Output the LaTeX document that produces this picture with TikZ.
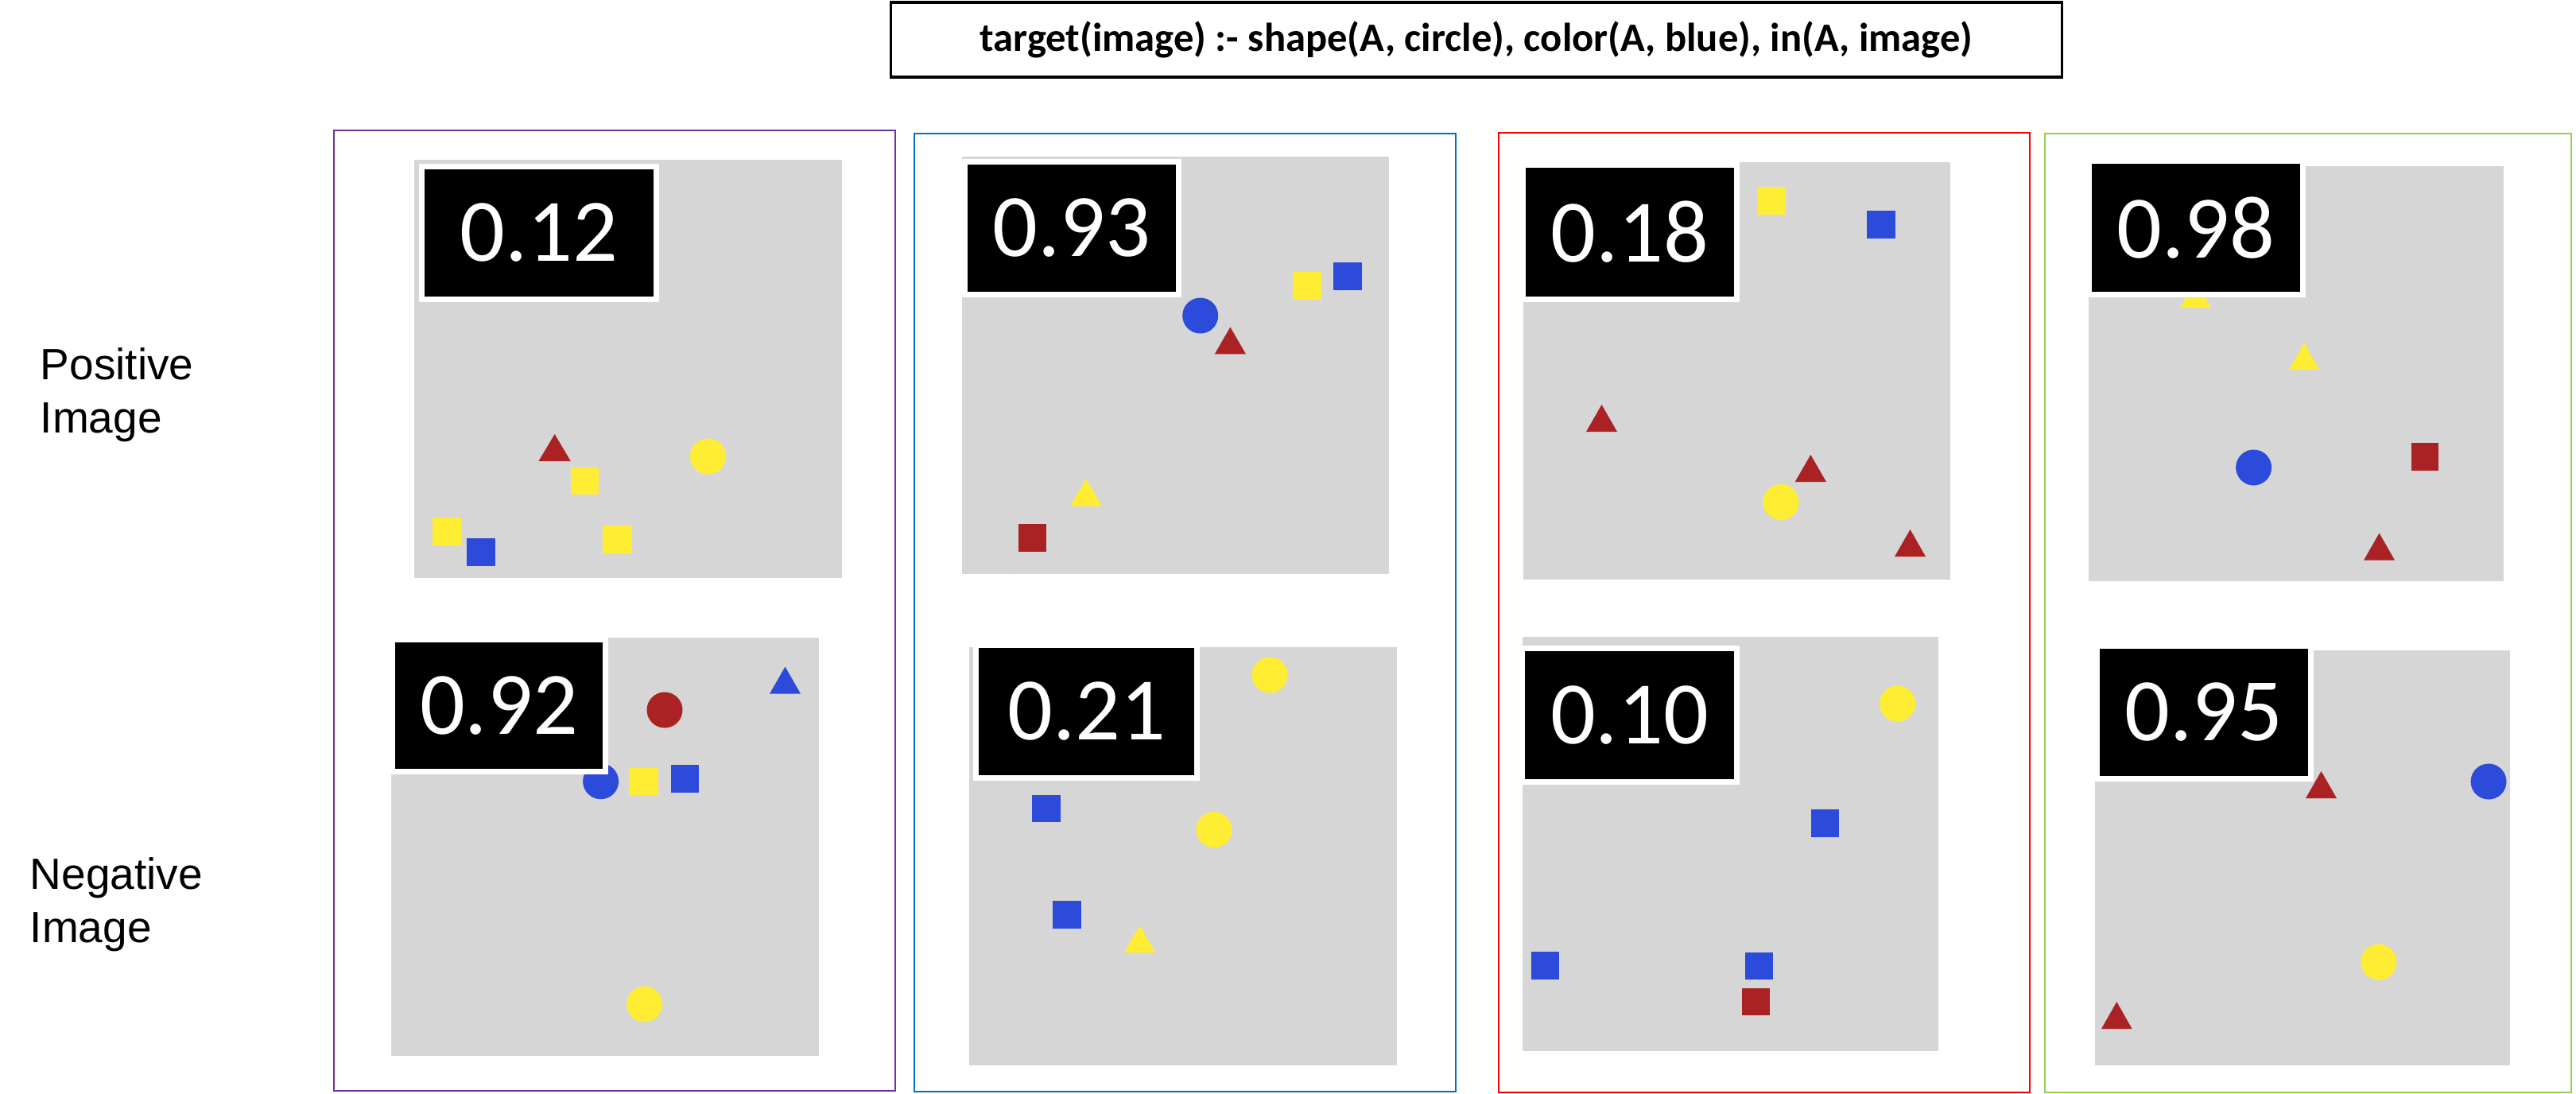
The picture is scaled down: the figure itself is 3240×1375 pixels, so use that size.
\documentclass[tikz,border=0pt]{standalone}
\usepackage{fontspec}
\setmainfont{Liberation Sans}
\newfontfamily\calib{Carlito}
\definecolor{sblue}{RGB}{44,75,218}
\definecolor{sred}{RGB}{170,34,36}
\definecolor{syellow}{RGB}{255,237,51}
\definecolor{pgray}{RGB}{214,214,214}
\definecolor{fpurple}{RGB}{112,48,160}
\definecolor{fblue}{RGB}{0,112,192}
\definecolor{fred}{RGB}{255,0,0}
\definecolor{fgreen}{RGB}{146,208,80}
\newcommand{\shSq}[5]{\fill[#1] (#2,#3) rectangle (#4,#5);}
\newcommand{\shTri}[4]{\fill[#1] (#2,#4) -- (#3,#4) -- ({(#2+#3)/2},{#4-34}) -- cycle;}
\newcommand{\shCirc}[3]{\fill[#1] (#2,#3) circle[radius=22.5];}
\begin{document}
\begin{tikzpicture}[x=0.01cm,y=-0.01cm,
  frame/.style={line width=0.75pt},
  panel/.style={fill=pgray},
  score/.style={fill=black, draw=white, line width=0.7mm, text=white, inner sep=0,
    font=\calib\fontsize{31.9}{38}\selectfont},
  rowlabel/.style={anchor=base west, inner sep=0, font=\fontsize{15.65}{19.06}\selectfont}]
\useasboundingbox (0,0) rectangle (3240,1375);
\fill[white] (0,0) rectangle (3240,1375);

% title
\node[draw, line width=1pt, minimum width=147.2mm, minimum height=9.4mm, inner sep=0,
  font=\calib\bfseries\fontsize{14.4}{17}\selectfont] (title) at (1857,50)
  {target(image) :- shape(A, circle), color(A, blue), in(A, image)};

% row labels
\node[rowlabel] (poslab) at (50,477) {\vtop{\hbox{Positive}\hbox{Image}}};
\node[rowlabel] (neglab) at (37,1118) {\vtop{\hbox{Negative}\hbox{Image}}};

% frames
\draw[frame, fpurple] (420,164) rectangle (1126,1372);
\draw[frame, fblue] (1150,168) rectangle (1831,1373);
\draw[frame, fred] (1885,167) rectangle (2553,1374);
\draw[frame, fgreen] (2572,168) rectangle (3234,1374);

% ---- panel A (0.12)
\fill[panel] (521,201) rectangle (1059,727);
\shTri{sred}{677.5}{717.8}{580}
\shSq{syellow}{718}{588}{753}{622}
\shCirc{syellow}{890.5}{574}
\shSq{syellow}{544}{651}{580}{686}
\shSq{sblue}{587}{676.5}{622.5}{711.5}
\shSq{syellow}{758}{661}{795}{696}
\node[score, minimum width=29.5mm, minimum height=16.7mm] (sA) at (678,293) {0.12};

% ---- panel B (0.92)
\fill[panel] (492,802) rectangle (1030,1328);
\shTri{sblue}{968}{1007}{872.6}
\shCirc{sred}{836}{893}
\shCirc{sblue}{755.6}{982.7}
\shSq{syellow}{791}{966}{827.5}{1000}
\shSq{sblue}{843.5}{962}{879}{997}
\shCirc{syellow}{810.6}{1262.8}
\node[score, minimum width=26.8mm, minimum height=16.6mm] (sB) at (627.5,887.5) {0.92};

% ---- panel C (0.93)
\fill[panel] (1209.5,197) rectangle (1746.6,722);
\shCirc{sblue}{1509.7}{397}
\shTri{sred}{1527.7}{1567}{445.4}
\shSq{syellow}{1626}{342}{1662}{377}
\shSq{sblue}{1677}{330}{1713}{364.6}
\shTri{syellow}{1346}{1386}{636.5}
\shSq{sred}{1281}{658.5}{1316}{693.5}
\node[score, minimum width=26.9mm, minimum height=16.7mm] (sC) at (1348,287) {0.93};

% ---- panel D (0.21)
\fill[panel] (1219,814) rectangle (1757,1340);
\shCirc{syellow}{1597}{849}
\shSq{sblue}{1298}{1000}{1334}{1034}
\shCirc{syellow}{1527}{1043.6}
\shSq{sblue}{1324}{1133}{1360}{1168}
\shTri{syellow}{1414}{1453}{1198}
\node[score, minimum width=27.8mm, minimum height=16.7mm] (sD) at (1366.7,895) {0.21};

% ---- panel E (0.18)
\fill[panel] (1916,204) rectangle (2453,729);
\shSq{syellow}{2210.6}{235}{2245.6}{270}
\shSq{sblue}{2348}{265}{2384}{300}
\shTri{sred}{1995}{2034}{543}
\shTri{sred}{2257.7}{2297}{606}
\shCirc{syellow}{2240}{631.5}
\shTri{sred}{2383}{2422}{700}
\node[score, minimum width=26.9mm, minimum height=16.8mm] (sE) at (2049.7,292) {0.18};

% ---- panel F (0.10)
\fill[panel] (1915,801) rectangle (2437.6,1322);
\shCirc{syellow}{2386.5}{885}
\shSq{sblue}{2278}{1017.6}{2313}{1052.5}
\shSq{sblue}{1925.6}{1197}{1960.6}{1231.5}
\shSq{sblue}{2195}{1198}{2230}{1232}
\shSq{sred}{2191}{1243}{2226}{1277}
\node[score, minimum width=26.9mm, minimum height=16.8mm] (sF) at (2049.5,899.5) {0.10};

% ---- panel G (0.98)
\fill[panel] (2627,208.5) rectangle (3148.5,731);
\shTri{syellow}{2742}{2781}{387}
\shTri{syellow}{2879}{2917}{465}
\shCirc{sblue}{2834.6}{588}
\shSq{sred}{3032.5}{557}{3067}{591.5}
\shTri{sred}{2973}{3012}{704.6}
\node[score, minimum width=26.9mm, minimum height=16.7mm] (sG) at (2761.8,286.5) {0.98};

% ---- panel H (0.95)
\fill[panel] (2635,818) rectangle (3157,1340);
\shCirc{sblue}{3130}{983}
\shCirc{syellow}{2991.8}{1210}
\shTri{sred}{2643}{2681.6}{1294}
\node[score, minimum width=26.9mm, minimum height=16.7mm] (sH) at (2772,895.7) {0.95};
\shTri{sred}{2900}{2939}{1004}
\end{tikzpicture}
\end{document}
